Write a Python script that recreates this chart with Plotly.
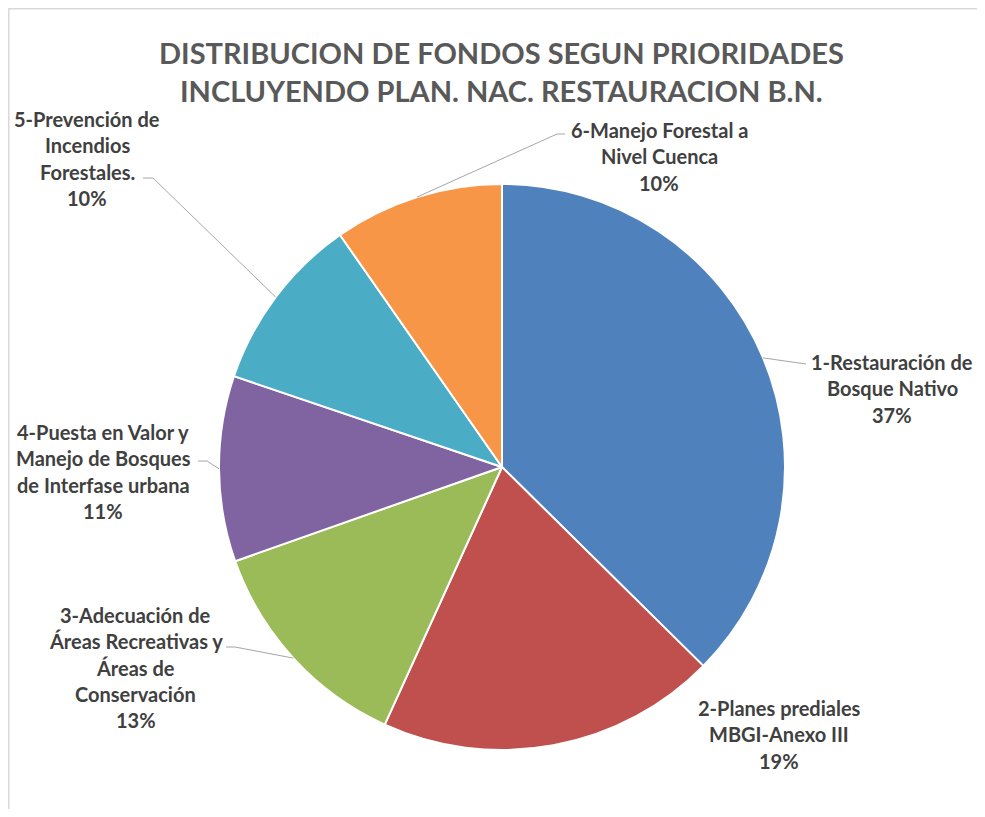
import math
import plotly.graph_objects as go

# ---- data ----
categories = [
    "1-Restauración de Bosque Nativo",
    "2-Planes prediales MBGI-Anexo III",
    "3-Adecuación de Áreas Recreativas y Áreas de Conservación",
    "4-Puesta en Valor y Manejo de Bosques de Interfase urbana",
    "5-Prevención de Incendios Forestales.",
    "6-Manejo Forestal a Nivel Cuenca",
]
label_lines = [
    ["1-Restauración de", "Bosque Nativo"],
    ["2-Planes prediales", "MBGI-Anexo III"],
    ["3-Adecuación de", "Áreas Recreativas y", "Áreas de", "Conservación"],
    ["4-Puesta en Valor y", "Manejo de Bosques", "de Interfase urbana"],
    ["5-Prevención de", "Incendios", "Forestales."],
    ["6-Manejo Forestal a", "Nivel Cuenca"],
]
values = [37.4, 19.4, 12.8, 10.6, 10.1, 9.7]
colors = ["#4F81BD", "#C0504D", "#9BBB59", "#8064A2", "#4BACC6", "#F79646"]
title_lines = ["DISTRIBUCION DE FONDOS SEGUN PRIORIDADES",
               "INCLUYENDO PLAN. NAC. RESTAURACION B.N."]

# ---- layout (page pixels; the page body has an 8px margin) ----
W, H = 969, 801
OX, OY = 8, 8
CX, CY, R = 502, 467, 283
label_pos = [
    (892, 362), (779, 708), (136, 615), (103, 432), (87, 119), (659, 130)
]
leader_pts = [
    [(806, 364)],
    None,
    [(226, 647), (235, 647)],
    [(198, 461), (207, 461)],
    [(143, 178), (153, 178)],
    [(565, 134), (557, 134)],
]
LINE_H = 26.3


def px(x):
    return (x - OX) / W


def py(y):
    return 1 - (y - OY) / H


fig = go.Figure(go.Pie(
    labels=categories, values=values, sort=False, direction="clockwise",
    rotation=0, marker=dict(colors=colors, line=dict(color="white", width=2)),
    textinfo="none", hoverinfo="label+percent",
    domain=dict(x=[px(CX - R), px(CX + R)], y=[py(CY + R), py(CY - R)]),
    showlegend=False,
))

annotations = []
shapes = []
font_lbl = dict(family="Lato", size=20, color="#404040", weight="bold")
total = sum(values)
cum = 0
for i, v in enumerate(values):
    mid = (cum + v / 2) / total * 2 * math.pi
    cum += v
    lines = label_lines[i] + [f"{round(v / total * 100)}%"]
    lx, ly = label_pos[i]
    for k, t in enumerate(lines):
        annotations.append(dict(
            x=px(lx), y=py(ly + k * LINE_H), xref="paper", yref="paper",
            text=t, showarrow=False, font=font_lbl, xanchor="center",
            yanchor="middle"))
    if leader_pts[i]:
        ex, ey = CX + R * math.sin(mid), CY - R * math.cos(mid)
        pts = leader_pts[i] + [(ex, ey)]
        path = "M " + " L ".join(f"{px(a)},{py(b)}" for a, b in pts)
        shapes.append(dict(type="path", path=path, xref="paper", yref="paper",
                           line=dict(color="#A6A6A6", width=1)))

for k, t in enumerate(title_lines):
    annotations.append(dict(
        x=px(502), y=py(52 + k * 38), xref="paper", yref="paper", text=t,
        showarrow=False, xanchor="center", yanchor="middle",
        font=dict(family="Lato", size=29, color="#595959", weight="bold")))

# chart frame (only left and top edges are visible in the reference)
shapes.append(dict(
    type="path", xref="paper", yref="paper",
    path=f"M {px(8)},{py(830)} L {px(8)},{py(8)} L {px(1000)},{py(8)}",
    line=dict(color="#D9D9D9", width=3), layer="below"))

fig.update_layout(
    width=W, height=H, margin=dict(l=0, r=0, t=0, b=0),
    paper_bgcolor="white", plot_bgcolor="white",
    annotations=annotations, shapes=shapes,
)
fig.write_html("out.html")
